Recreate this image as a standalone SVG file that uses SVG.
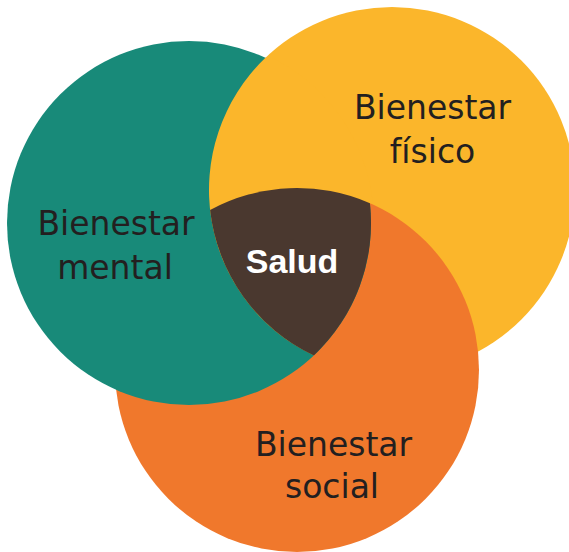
<svg xmlns="http://www.w3.org/2000/svg" width="569" height="552" viewBox="0 0 569 552">
  <style>
    .lbl { font-family: "DejaVu Sans", "Liberation Sans", sans-serif; font-size: 33px; fill: #231f20; text-anchor: middle; }
    .core { font-family: "Liberation Sans", Arial, sans-serif; font-size: 34px; font-weight: bold; fill: #ffffff; text-anchor: middle; }
    .yellow { fill: #fbb62b; }
    .orange { fill: #f0782c; }
    .teal { fill: #188a79; }
    .brown { fill: #4a382f; }
  </style>
  <rect width="569" height="552" fill="#ffffff"/>
  <g id="fisico">
    <circle class="yellow" cx="392" cy="190" r="183"/>
  </g>
  <g id="social">
    <circle class="orange" cx="297" cy="370" r="182"/>
  </g>
  <g id="mental">
    <circle class="teal" cx="189" cy="223" r="182"/>
  </g>
  <g id="fisico-overlap">
    <path class="yellow" d="M265.43,57.82 A183,183 0 0 0 313.81,355.46 L369.93,203.24 L372.92,203.0 A185,185 0 0 0 270.1,56.7 Z"/>
  </g>
  <g id="salud">
    <path class="brown" d="M210.10,210.07 A182,182 0 0 1 369.93,203.24 A182,182 0 0 1 313.81,355.46 A183,183 0 0 1 210.10,210.07 Z"/>
    <text class="core" x="292" y="273">Salud</text>
  </g>
  <g id="labels">
    <text class="lbl" x="432.5" y="119">Bienestar</text>
    <text class="lbl" x="432.5" y="163">físico</text>
    <text class="lbl" x="116" y="235">Bienestar</text>
    <text class="lbl" x="115" y="279">mental</text>
    <text class="lbl" x="333.5" y="456">Bienestar</text>
    <text class="lbl" x="332" y="498">social</text>
  </g>
  <g id="connectors"></g>
</svg>
